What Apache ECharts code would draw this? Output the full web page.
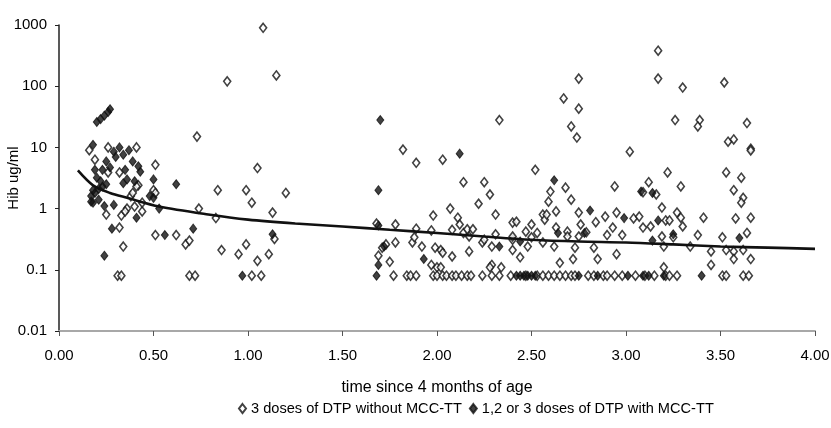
<!DOCTYPE html>
<html><head><meta charset="utf-8">
<script src="https://cdn.jsdelivr.net/npm/echarts@6/dist/echarts.min.js"></script>
<style>html,body{margin:0;padding:0;background:#fff}#c{width:831px;height:428px}</style>
</head><body><div id="c"></div>
<script>
const xTicks = [0, 0.5, 1, 1.5, 2, 2.5, 3, 3.5, 4];
const yTicks = [0.01, 0.1, 1, 10, 100, 1000];
const seriesNames = ['3 doses of DTP without MCC-TT', '1,2 or 3 doses of DTP with MCC-TT'];

// open diamonds: [years, ug/ml]
const withoutMcc = [
 [0.16,9],[0.19,6.3],[0.26,10],[0.41,10],[0.51,5.2],[0.73,15],[0.89,120],[1.08,900],[1.15,150],[1.05,4.6],
 [0.84,2.0],[0.99,2.0],[0.74,1.0],[1.02,1.25],[0.83,0.7],[1.13,0.86],[1.14,0.32],[0.86,0.21],[0.95,0.18],[0.99,0.26],
 [1.05,0.14],[1.11,0.18],[0.31,0.08],[0.33,0.08],[0.69,0.08],[0.72,0.08],[1.02,0.08],[1.07,0.08],[0.32,0.49],[0.34,0.24],
 [0.51,0.37],[0.62,0.37],[0.67,0.26],[0.69,0.30],[0.25,0.8],[0.33,0.77],[0.36,1.0],[0.40,1.08],[0.44,0.9],[0.50,2.0],
 [0.38,1.6],[0.39,1.8],[0.42,2.4],[0.32,3.9],[0.26,3.9],[0.41,2.3],[0.44,1.25],[0.51,1.8],[0.35,0.9],[1.20,1.8],
 [1.82,9.2],[1.89,5.6],[2.03,6.3],[2.33,28],[2.52,4.3],[2.14,2.7],[2.25,2.7],[2.28,1.7],[2.22,1.2],
 [1.68,0.57],[1.78,0.55],[1.89,0.47],[1.98,0.77],[2.07,1.0],[1.97,0.44],[2.11,0.71],[2.08,0.45],[2.12,0.55],[2.14,0.4],[2.17,0.35],[2.16,0.46],
 [1.71,0.23],[1.69,0.17],[1.75,0.135],[1.73,0.26],[1.78,0.28],[1.87,0.28],[1.88,0.34],[1.92,0.24],[1.99,0.23],[2.02,0.21],
 [2.03,0.19],[2.08,0.165],[1.97,0.12],[2.0,0.11],[2.02,0.11],
 [1.77,0.08],[1.84,0.08],[1.86,0.08],[1.89,0.08],[1.98,0.08],[2.00,0.08],[2.03,0.08],[2.05,0.08],[2.08,0.08],[2.10,0.08],[2.13,0.08],[2.16,0.08],
 [2.17,0.2],[2.19,0.46],[2.24,0.28],[2.25,0.31],[2.31,0.38],[2.29,0.24],[2.29,0.12],[2.34,0.11],[2.28,0.11],[2.31,0.8],
 [2.40,0.59],[2.42,0.61],[2.40,0.21],[2.40,0.31],[2.40,0.35],[2.44,0.16],[2.47,0.42],[2.48,0.24],[2.50,0.34],[2.50,0.55],
 [2.53,0.40],[2.56,0.28],[2.56,0.8],[2.57,0.66],[2.58,0.8],[2.59,1.3],[2.60,1.9],[2.62,0.24],[2.63,0.49],[2.63,0.9],
 [2.65,0.13],[2.68,2.2],[2.69,0.42],[2.69,0.35],[2.71,1.4],[2.72,0.15],[2.73,0.23],[2.75,0.35],[2.75,0.86],[2.76,0.55],
 [2.79,0.41],[2.83,0.23],[2.84,0.6],[2.85,0.15],[2.89,0.74],[2.90,0.37],[2.93,0.49],[2.94,2.3],[2.95,0.86],[2.95,0.18],[2.98,0.37],
 [2.67,63],[2.75,133],[2.75,43],[2.71,22],[2.74,14.5],[3.02,8.5],[3.17,380],[3.17,133],[3.30,95],[3.52,115],
 [3.26,28],[3.39,28],[3.38,22],[3.64,25],[3.54,12.4],[3.57,13.5],[3.66,9.5],
 [2.18,0.08],[2.24,0.08],[2.29,0.08],[2.33,0.08],[2.39,0.08],[2.47,0.08],[2.53,0.08],[2.56,0.08],[2.59,0.08],[2.62,0.08],
 [2.65,0.08],[2.68,0.08],[2.71,0.08],[2.73,0.08],[2.80,0.08],[2.83,0.08],[2.88,0.08],[2.90,0.08],[2.94,0.08],[2.98,0.08],
 [3.05,0.08],[3.10,0.08],[3.15,0.08],[3.21,0.08],[3.23,0.08],[3.27,0.08],[3.51,0.08],[3.53,0.08],[3.62,0.08],[3.65,0.08],
 [3.22,3.9],[3.29,2.3],[3.12,2.7],[3.09,1.85],[3.16,1.7],[3.19,1.04],[3.27,0.86],[3.29,0.71],[3.30,0.51],[3.04,0.69],
 [3.07,0.74],[3.09,0.49],[3.13,0.51],[3.21,0.64],[3.23,0.64],[3.41,0.71],[3.53,3.9],[3.61,3.2],[3.57,2.0],[3.62,1.5],
 [3.61,1.25],[3.58,0.69],[3.66,0.71],[3.64,0.40],[3.51,0.34],[3.38,0.37],[3.25,0.34],[3.19,0.35],[3.20,0.24],[3.34,0.24],
 [3.45,0.2],[3.53,0.21],[3.57,0.2],[3.45,0.12],[3.57,0.15],[3.66,0.15],[3.62,0.21],[3.20,0.11],[3.66,8.9]
];

// filled diamonds: [years, ug/ml]
const withMcc = [
 [0.20,26],[0.22,29],[0.24,33],[0.26,38],[0.27,42],
 [0.18,11],[0.32,10],[0.34,7.6],[0.29,8.5],[0.39,5.9],[0.42,4.9],[0.43,4.0],[0.35,4.3],[0.36,3.0],[0.27,4.7],
 [0.25,5.9],[0.23,4.3],[0.19,4.3],[0.20,3.2],[0.25,2.5],[0.23,2.3],[0.18,2.0],[0.17,1.6],[0.18,1.25],[0.21,1.4],
 [0.34,2.6],[0.40,2.8],[0.50,3.0],[0.62,2.5],[0.48,1.6],[0.50,1.5],[0.53,1.0],[0.41,0.71],[0.29,1.15],[0.24,1.1],
 [0.28,0.47],[0.24,0.17],[0.56,0.37],[0.71,0.47],[0.97,0.08],[1.13,0.38],[0.17,1.3],[0.19,1.8],[0.21,2.1],[0.30,7],[0.37,9],[0.22,2.8],
 [1.70,28],[2.12,7.9],[1.69,2.0],[1.69,0.53],[1.72,0.24],[1.69,0.12],[1.68,0.08],[1.93,0.15],[2.33,0.24],[2.44,0.29],
 [2.62,2.9],[2.64,0.40],[2.78,0.40],[2.81,0.93],[2.99,0.7],
 [2.42,0.08],[2.44,0.08],[2.46,0.08],[2.48,0.08],[2.50,0.08],[2.52,0.08],[2.75,0.08],[2.85,0.08],[3.01,0.08],[3.09,0.08],
 [3.12,0.08],[3.20,0.08],[3.40,0.08],
 [3.08,1.9],[3.14,1.8],[3.17,0.64],[3.25,0.38],[3.14,0.30],[3.60,0.33]
];

// fitted trend line
const trendX = [0.10,0.18,0.27,0.36,0.53,0.79,1.0,1.25,1.5,1.75,2.0,2.25,2.5,2.75,3.0,3.25,3.5,3.75,4.0];
const trendY = [4.2,2.4,1.8,1.5,1.08,0.8,0.66,0.57,0.51,0.45,0.40,0.35,0.31,0.29,0.28,0.26,0.24,0.23,0.22];

const chart = echarts.init(document.getElementById('c'), null, {renderer:'canvas'});
const font = "'Liberation Sans', Arial, sans-serif";
chart.setOption({
  animation:false,
  backgroundColor:'#fff',
  textStyle:{fontFamily:font},
  grid:{left:59, right:16, top:25, bottom:97, containLabel:false, outerBoundsMode:'none'},
  legend:{
    data:seriesNames, bottom:7, left:233, itemGap:7, itemWidth:7, itemHeight:9,
    textStyle:{fontSize:14.6, color:'#000', fontFamily:font}
  },
  xAxis:{
    type:'value', min:0, max:4, interval:0.5,
    name:'time since 4 months of age', nameLocation:'middle', nameGap:49, nameMoveOverlap:false,
    nameTextStyle:{fontSize:16, color:'#000'},
    axisLine:{show:true, lineStyle:{color:'#a8a8a8', width:2}},
    axisTick:{show:true, length:5, lineStyle:{color:'#555', width:1}},
    axisLabel:{fontSize:15, color:'#000', margin:17, formatter:v=>v.toFixed(2)},
    splitLine:{show:false}
  },
  yAxis:{
    type:'log', logBase:10, min:0.01, max:1000,
    name:'Hib ug/ml', nameLocation:'middle', nameGap:38, nameRotate:90, nameMoveOverlap:false,
    nameTextStyle:{fontSize:15, color:'#000'},
    axisLine:{show:true, lineStyle:{color:'#222', width:1.5}},
    axisTick:{show:true, length:4, lineStyle:{color:'#222'}},
    axisLabel:{fontSize:15, color:'#000', margin:12, formatter:v=>String(+(+v).toPrecision(3))},
    splitLine:{show:false}
  },
  series:[
    {name:seriesNames[0], type:'scatter', data:withoutMcc, symbol:'diamond', symbolSize:[7,9],
     itemStyle:{color:'#fff', borderColor:'#111', borderWidth:1.6}},
    {name:seriesNames[1], type:'scatter', data:withMcc, symbol:'diamond', symbolSize:[7,9],
     itemStyle:{color:'#111', borderColor:'#111', borderWidth:1}},
    {name:'trend', type:'line', data:trendX.map((x,i)=>[x,trendY[i]]), smooth:0.3, showSymbol:false, symbol:'none',
     lineStyle:{color:'#111', width:2.6}, z:5, silent:true}
  ]
});
</script></body></html>
